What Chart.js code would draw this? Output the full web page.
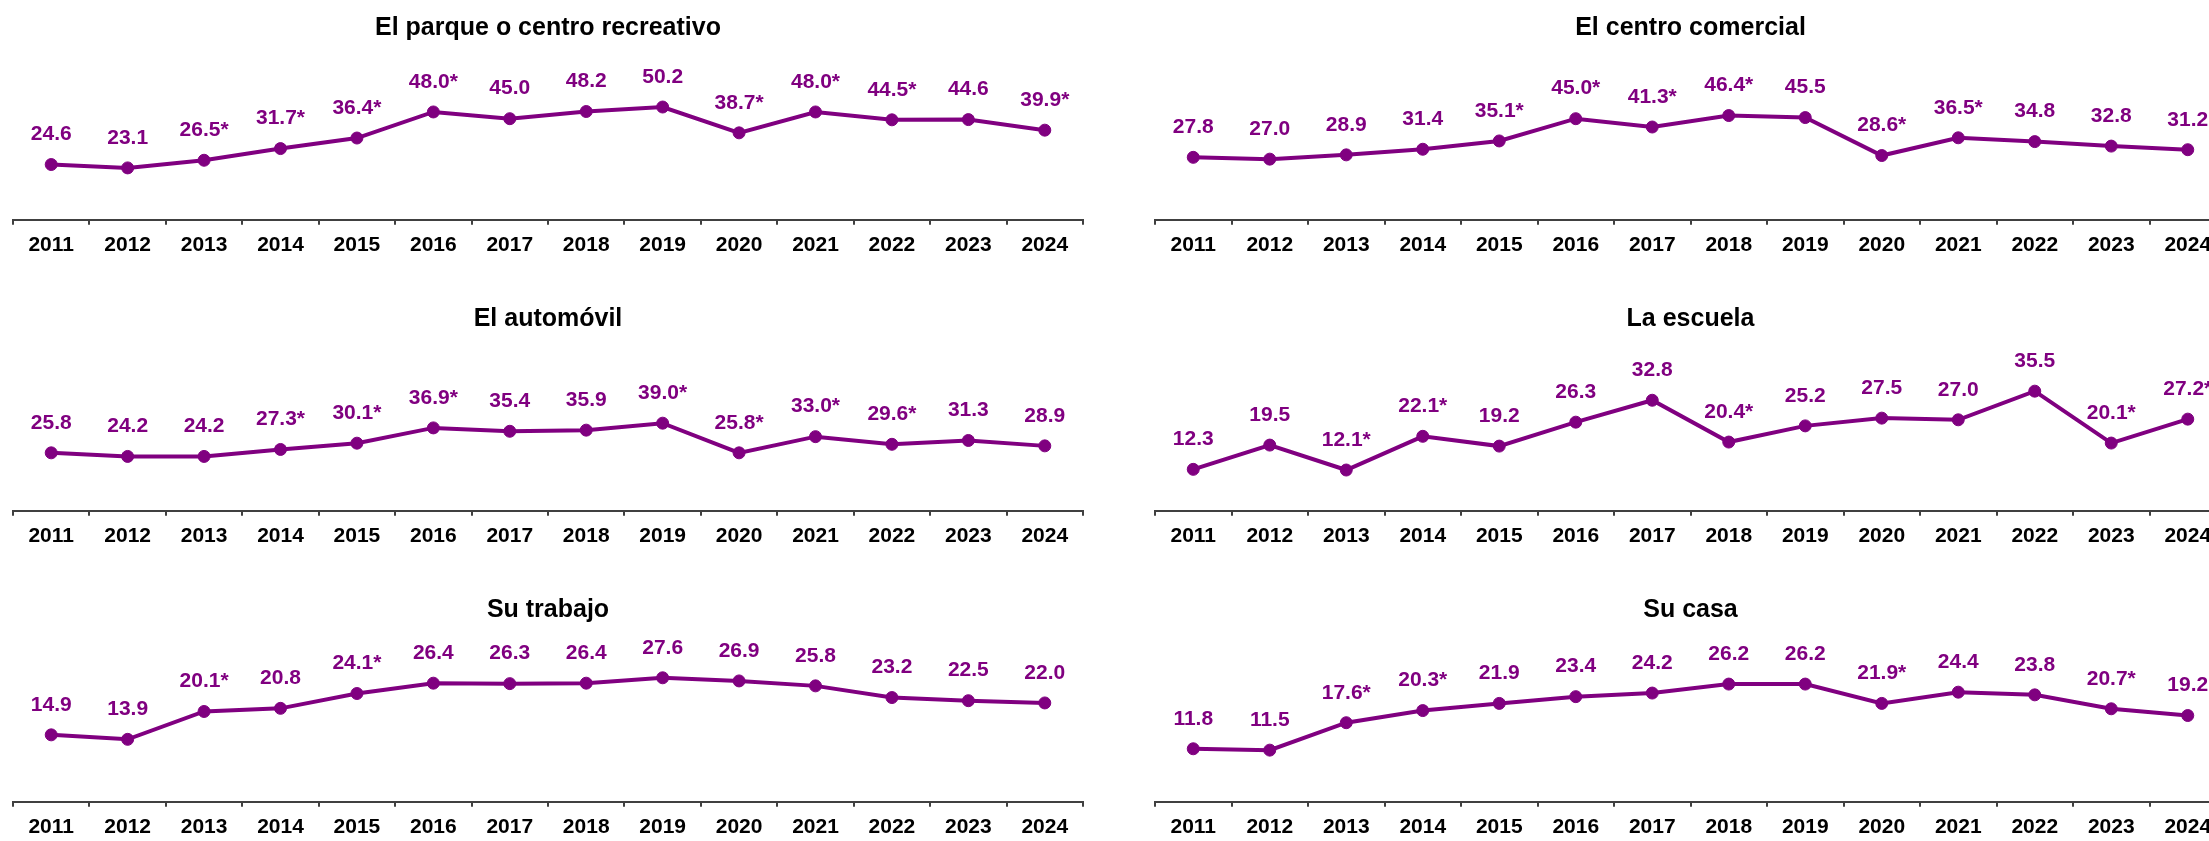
<!DOCTYPE html>
<html>
<head>
<meta charset="utf-8">
<script src="https://cdn.jsdelivr.net/npm/chart.js@4.4.1/dist/chart.umd.min.js"></script>
<style>
  html, body { margin: 0; padding: 0; background: #fff; overflow: hidden; }
  #panel { position: relative; width: 2209px; height: 841px; overflow: hidden; }
  canvas { position: absolute; }
</style>
</head>
<body>
<div id="panel">
  <canvas id="g1" width="1096" height="291" style="left:0px;top:0px"></canvas>
  <canvas id="g2" width="1097" height="291" style="left:1142px;top:0px"></canvas>
  <canvas id="g3" width="1096" height="291" style="left:0px;top:291px"></canvas>
  <canvas id="g4" width="1097" height="291" style="left:1142px;top:291px"></canvas>
  <canvas id="g5" width="1096" height="291" style="left:0px;top:582px"></canvas>
  <canvas id="g6" width="1097" height="291" style="left:1142px;top:582px"></canvas>
</div>
<script>
// Años
const anios = ['2011', '2012', '2013', '2014', '2015', '2016', '2017', '2018', '2019', '2020', '2021', '2022', '2023', '2024'];

// Porcentajes por lugar
const parque = [24.6, 23.1, 26.5, 31.7, 36.4, 48.0, 45.0, 48.2, 50.2, 38.7, 48.0, 44.5, 44.6, 39.9];
const comercial = [27.8, 27.0, 28.9, 31.4, 35.1, 45.0, 41.3, 46.4, 45.5, 28.6, 36.5, 34.8, 32.8, 31.2];
const automovil = [25.8, 24.2, 24.2, 27.3, 30.1, 36.9, 35.4, 35.9, 39.0, 25.8, 33.0, 29.6, 31.3, 28.9];
const escuela = [12.3, 19.5, 12.1, 22.1, 19.2, 26.3, 32.8, 20.4, 25.2, 27.5, 27.0, 35.5, 20.1, 27.2];
const trabajo = [14.9, 13.9, 20.1, 20.8, 24.1, 26.4, 26.3, 26.4, 27.6, 26.9, 25.8, 23.2, 22.5, 22.0];
const casa = [11.8, 11.5, 17.6, 20.3, 21.9, 23.4, 24.2, 26.2, 26.2, 21.9, 24.4, 23.8, 20.7, 19.2];

// Años con diferencia significativa (se marcan con *)
const parqueAst = ['2013', '2014', '2015', '2016', '2020', '2021', '2022', '2024'];
const comercialAst = ['2015', '2016', '2017', '2018', '2020', '2021'];
const automovilAst = ['2014', '2015', '2016', '2019', '2020', '2021', '2022'];
const escuelaAst = ['2013', '2014', '2018', '2023', '2024'];
const trabajoAst = ['2013', '2015'];
const casaAst = ['2013', '2014', '2020', '2023'];

const MORADO = '#800080';
const FUENTE = "'Liberation Sans', Arial, sans-serif";

// Etiquetas de valor encima de cada punto
const etiquetasPlugin = {
  id: 'etiquetas',
  afterDatasetsDraw(chart) {
    const ctx = chart.ctx;
    const ds = chart.data.datasets[0];
    const meta = chart.getDatasetMeta(0);
    ctx.save();
    ctx.font = 'bold 21px ' + FUENTE;
    ctx.fillStyle = MORADO;
    ctx.textAlign = 'center';
    ctx.textBaseline = 'middle';
    meta.data.forEach((pt, i) => {
      const txt = ds.data[i].toFixed(1) + (ds.asteriscos.includes(anios[i]) ? '*' : '');
      ctx.fillText(txt, pt.x, pt.y - 30);
    });
    ctx.restore();
  }
};

function grafica(id, titulo, valores, asteriscos, maximo) {
  const ctx = document.getElementById(id).getContext('2d');
  return new Chart(ctx, {
    type: 'line',
    data: {
      labels: anios,
      datasets: [{
        data: valores,
        asteriscos: asteriscos,
        borderColor: MORADO,
        backgroundColor: MORADO,
        borderWidth: 4,
        tension: 0,
        pointRadius: 6,
        pointBorderWidth: 1,
        pointBackgroundColor: MORADO,
        pointBorderColor: MORADO
      }]
    },
    options: {
      responsive: false,
      animation: false,
      devicePixelRatio: 1,
      layout: { padding: { left: 13, right: 13, top: 0, bottom: 25 } },
      plugins: {
        legend: { display: false },
        tooltip: { enabled: false },
        title: {
          display: true,
          text: titulo,
          color: '#000',
          font: { family: FUENTE, size: 25, weight: 'bold' },
          padding: { top: 13, bottom: 42 }
        }
      },
      scales: {
        x: {
          offset: true,
          grid: {
            offset: true,
            drawOnChartArea: false,
            drawTicks: true,
            tickLength: 5,
            color: '#404040',
            lineWidth: 2
          },
          border: { display: true, color: '#404040', width: 2 },
          ticks: {
            color: '#000',
            padding: 8,
            maxRotation: 0,
            font: { family: FUENTE, size: 21, weight: 'bold' }
          }
        },
        y: {
          display: false,
          min: 0,
          max: maximo
        }
      }
    },
    plugins: [etiquetasPlugin]
  });
}

grafica('g1', 'El parque o centro recreativo', parque, parqueAst, 60);
grafica('g2', 'El centro comercial', comercial, comercialAst, 60);
grafica('g3', 'El automóvil', automovil, automovilAst, 60);
grafica('g4', 'La escuela', escuela, escuelaAst, 40);
grafica('g5', 'Su trabajo', trabajo, trabajoAst, 30);
grafica('g6', 'Su casa', casa, casaAst, 30);
</script>
</body>
</html>
